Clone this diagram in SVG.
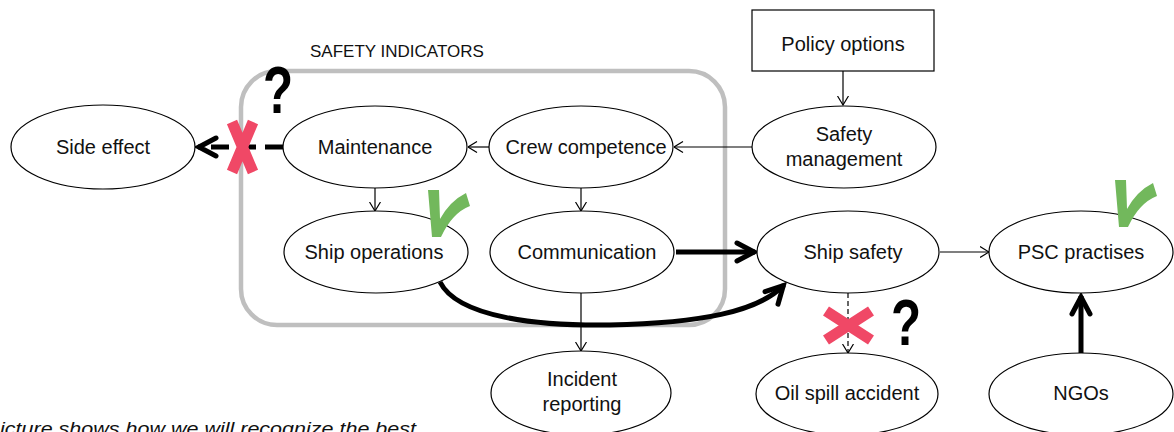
<svg xmlns="http://www.w3.org/2000/svg" width="1174" height="432" viewBox="0 0 1174 432">
<style>
.node{fill:#fff;stroke:#000;stroke-width:1.2}
.lbl{font-family:"Liberation Sans",Arial,sans-serif;font-size:20px;fill:#111;text-anchor:middle}
.thin{fill:none;stroke:#000;stroke-width:1.2}
.thick{fill:none;stroke:#000;stroke-width:5}
.cross{fill:none;stroke:#f04866;stroke-width:11}
.q{font-family:"Liberation Sans",Arial,sans-serif;font-weight:bold;font-size:58px;fill:#000;text-anchor:middle}
.check{fill:#72b85c}
</style>
<defs>
<marker id="open" viewBox="0 0 10 12" refX="9.5" refY="6" markerWidth="10" markerHeight="12" markerUnits="userSpaceOnUse" orient="auto">
<path d="M0.5,0.5 L9.5,6 L0.5,11.5" fill="none" stroke="#000" stroke-width="1.2" stroke-dasharray="none"/>
</marker>
<marker id="bold" viewBox="0 0 26 26" refX="22" refY="13" markerWidth="26" markerHeight="26" markerUnits="userSpaceOnUse" orient="auto">
<path d="M4,4 L21,13 L4,22" fill="none" stroke="#000" stroke-width="5" stroke-linecap="round" stroke-dasharray="none"/>
</marker>
<path id="tick" d="M428,190 L439,190 L440,219 Q450,201 466,193 L470,206 Q452,213 441,237 L432,237 Z"/>
</defs>

<rect x="241" y="71" width="484" height="254" rx="36" ry="36" fill="none" stroke="#bfbfbf" stroke-width="4.5"/>
<text x="310" y="57" font-family="'Liberation Sans',Arial,sans-serif" font-size="17" fill="#111">SAFETY INDICATORS</text>

<g id="connectors">
<line class="thin" x1="843" y1="71" x2="843" y2="105" marker-end="url(#open)"/>
<line class="thin" x1="752" y1="147" x2="674" y2="147" marker-end="url(#open)"/>
<line class="thin" x1="489" y1="147" x2="468" y2="147" marker-end="url(#open)"/>
<line class="thin" x1="375" y1="188" x2="375" y2="211" marker-end="url(#open)"/>
<line class="thin" x1="581" y1="188" x2="581" y2="211" marker-end="url(#open)"/>
<line class="thin" x1="581" y1="293" x2="581" y2="351" marker-end="url(#open)"/>
<line class="thin" x1="848" y1="293" x2="848" y2="353" stroke-dasharray="5 3" marker-end="url(#open)"/>
<line class="thin" x1="940" y1="252" x2="989" y2="252" marker-end="url(#open)"/>
<line class="thick" x1="676" y1="252" x2="755" y2="252" marker-end="url(#bold)"/>
<line class="thick" x1="1081" y1="353" x2="1081" y2="296" marker-end="url(#bold)"/>
<line class="thick" x1="283" y1="147" x2="198" y2="147" stroke-dasharray="18 9" marker-end="url(#bold)"/>
<path class="thick" d="M440,282 C458,318 540,326 610,325 C700,323 758,312 784,285" marker-end="url(#bold)"/>
</g>

<g id="policy-options"><rect class="node" x="752" y="10" width="182" height="61"/><text class="lbl" x="843" y="51">Policy options</text></g>
<g id="side-effect"><ellipse class="node" cx="103" cy="147" rx="92" ry="42"/><text class="lbl" x="103" y="154">Side effect</text></g>
<g id="maintenance"><ellipse class="node" cx="375" cy="147" rx="92" ry="41"/><text class="lbl" x="375" y="154">Maintenance</text></g>
<g id="crew-competence"><ellipse class="node" cx="581" cy="147" rx="92" ry="41"/><text class="lbl" x="586" y="154">Crew competence</text></g>
<g id="safety-management"><ellipse class="node" cx="844" cy="147" rx="92" ry="41"/><text class="lbl" x="844" y="141">Safety</text><text class="lbl" x="844" y="166">management</text></g>
<g id="ship-operations"><ellipse class="node" cx="376" cy="252" rx="92" ry="41"/><text class="lbl" x="374" y="259">Ship operations</text></g>
<g id="communication"><ellipse class="node" cx="582" cy="252" rx="92" ry="41"/><text class="lbl" x="587" y="259">Communication</text></g>
<g id="ship-safety"><ellipse class="node" cx="848" cy="252" rx="91" ry="41"/><text class="lbl" x="853" y="259">Ship safety</text></g>
<g id="psc-practises"><ellipse class="node" cx="1081" cy="252" rx="92" ry="41"/><text class="lbl" x="1081" y="259">PSC practises</text></g>
<g id="incident-reporting"><ellipse class="node" cx="581" cy="393" rx="90" ry="42"/><text class="lbl" x="582" y="386">Incident</text><text class="lbl" x="582" y="411">reporting</text></g>
<g id="oil-spill-accident"><ellipse class="node" cx="847" cy="394" rx="91" ry="41"/><text class="lbl" x="847" y="400">Oil spill accident</text></g>
<g id="ngos"><ellipse class="node" cx="1081" cy="394" rx="92" ry="41"/><text class="lbl" x="1081" y="400">NGOs</text></g>

<g id="marks">
<path class="cross" d="M232,122 L253,172 M253,122 L232,172"/>
<path class="cross" d="M826,311 L871,340 M871,311 L826,340"/>
<text class="q" transform="translate(278,113) scale(0.85,1.15)">?</text>
<text class="q" transform="translate(906,345) scale(0.85,1.12)">?</text>
<use href="#tick" class="check"/>
<use href="#tick" class="check" transform="translate(687,-10)"/>
</g>

<text x="0" y="435" font-family="'Liberation Sans',Arial,sans-serif" font-style="italic" font-size="18" fill="#111" textLength="416" lengthAdjust="spacingAndGlyphs">icture shows how we will recognize the best</text>
</svg>
